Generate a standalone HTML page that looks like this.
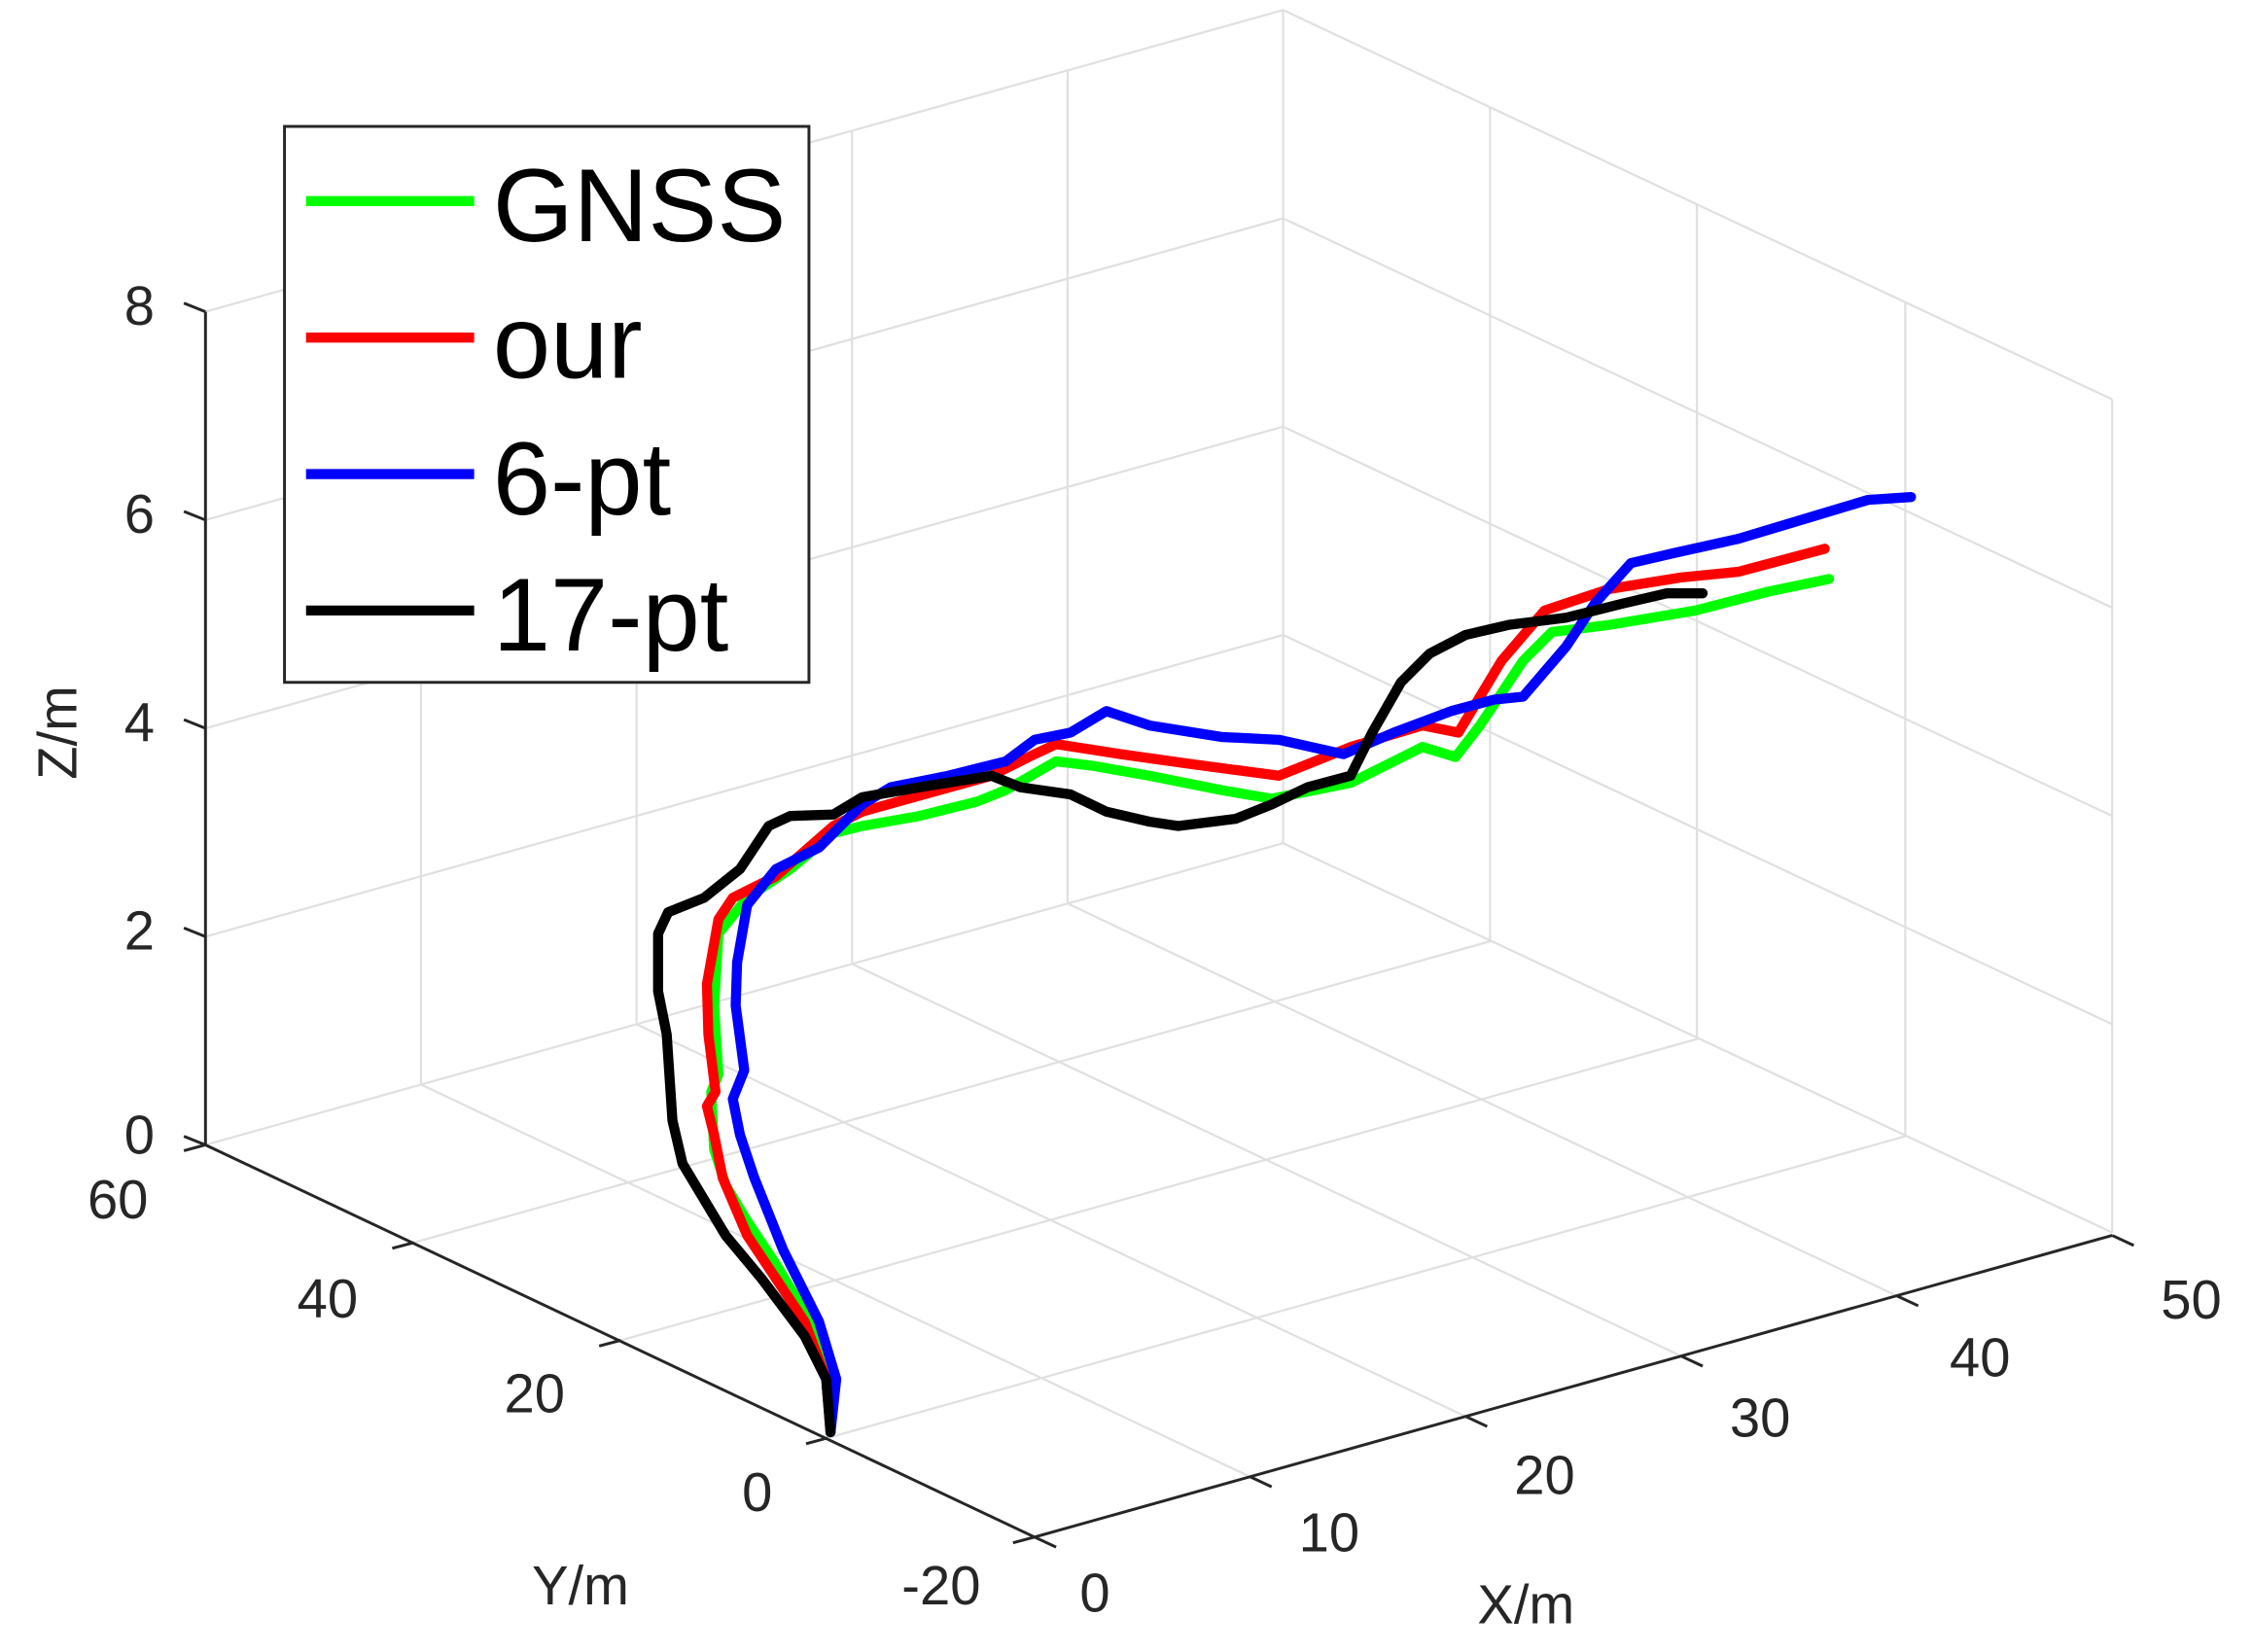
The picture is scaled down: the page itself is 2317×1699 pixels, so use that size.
<!DOCTYPE html>
<html><head><meta charset="utf-8"><style>
html,body{margin:0;padding:0;background:#fff;}
svg{display:block;}
text{font-family:"Liberation Sans",Arial,sans-serif;fill:#262626;}
</style></head><body>
<svg width="2317" height="1699" viewBox="0 0 1568 1150" preserveAspectRatio="none" xmlns="http://www.w3.org/2000/svg">
<rect width="1568" height="1150" fill="#fff"/>
<g stroke="#e0e0e0" stroke-width="1.5" fill="none">
<line x1="143" y1="797" x2="143" y2="217"/>
<line x1="293" y1="755" x2="293" y2="175"/>
<line x1="443" y1="713" x2="443" y2="133"/>
<line x1="593" y1="671" x2="593" y2="91"/>
<line x1="743" y1="629" x2="743" y2="49"/>
<line x1="893" y1="587" x2="893" y2="7"/>
<line x1="1037" y1="654" x2="1037" y2="74"/>
<line x1="1181" y1="722" x2="1181" y2="142"/>
<line x1="1326" y1="790" x2="1326" y2="210"/>
<line x1="1470" y1="858" x2="1470" y2="278"/>
<polyline points="143,652 893,442 1470,713"/>
<polyline points="143,507 893,297 1470,568"/>
<polyline points="143,362 893,152 1470,423"/>
<polyline points="143,217 893,7 1470,278"/>
<polyline points="143,797 893,587 1470,858"/>
<line x1="293" y1="755" x2="870" y2="1028"/>
<line x1="443" y1="713" x2="1020" y2="986"/>
<line x1="593" y1="671" x2="1170" y2="944"/>
<line x1="743" y1="629" x2="1320" y2="902"/>
<line x1="288" y1="865" x2="1038" y2="655"/>
<line x1="432" y1="933" x2="1182" y2="723"/>
<line x1="576" y1="1001" x2="1326" y2="791"/>
</g>
<g stroke="#262626" stroke-width="2" fill="none">
<line x1="143" y1="797" x2="143" y2="217"/>
<line x1="143" y1="797" x2="720" y2="1070"/>
<line x1="720" y1="1070" x2="1470" y2="860"/>
<line x1="143" y1="797" x2="128" y2="791"/>
<line x1="143" y1="652" x2="128" y2="646"/>
<line x1="143" y1="507" x2="128" y2="501"/>
<line x1="143" y1="362" x2="128" y2="356"/>
<line x1="143" y1="217" x2="128" y2="211"/>
<line x1="143" y1="797" x2="128" y2="801"/>
<line x1="288" y1="865" x2="273" y2="869"/>
<line x1="432" y1="933" x2="417" y2="937"/>
<line x1="576" y1="1001" x2="561" y2="1005"/>
<line x1="720" y1="1070" x2="705" y2="1074"/>
<line x1="720" y1="1070" x2="735" y2="1077"/>
<line x1="870" y1="1028" x2="885" y2="1035"/>
<line x1="1020" y1="986" x2="1035" y2="993"/>
<line x1="1170" y1="944" x2="1185" y2="951"/>
<line x1="1320" y1="902" x2="1335" y2="909"/>
<line x1="1470" y1="860" x2="1485" y2="867"/>
</g>
<g font-size="38" text-anchor="middle">
<text x="97" y="226">8</text><text x="97" y="371">6</text><text x="97" y="516">4</text><text x="97" y="661">2</text><text x="97" y="803">0</text>
<text x="82" y="848">60</text><text x="228" y="917">40</text><text x="372" y="983">20</text><text x="527" y="1052">0</text><text x="655" y="1117">-20</text>
<text x="762" y="1122">0</text><text x="925" y="1080">10</text><text x="1075" y="1040">20</text><text x="1225" y="1000">30</text><text x="1378" y="958">40</text><text x="1525" y="918">50</text>
<text x="404" y="1117">Y/m</text><text x="1062" y="1130">X/m</text>
<text transform="translate(53,510) rotate(-90)">Z/m</text>
</g>
<g fill="none" stroke-width="7" stroke-linejoin="round" stroke-linecap="round">
<polyline stroke="#00ff00" points="578,997 580,960 570,930 540,880 520,850 505,825 497,800 495,760 500,748 497,700 500,650 520,625 550,605 580,580 600,575 640,568 680,558 700,550 735,530 760,533 800,540 850,550 885,556 940,545 990,520 1013,527 1030,505 1060,460 1080,440 1120,435 1180,425 1230,412 1273,403"/>
<polyline stroke="#ff0000" points="578,997 575,960 560,920 520,860 503,820 497,790 492,770 498,760 493,720 492,685 500,640 510,625 540,610 580,575 600,565 690,540 720,525 735,518 780,525 830,532 890,540 940,520 990,505 1015,510 1045,460 1075,425 1120,410 1170,402 1210,398 1270,382"/>
<polyline stroke="#0000ff" points="578,997 582,960 570,920 545,870 525,820 515,790 510,765 518,745 512,700 513,670 520,630 540,605 570,590 600,560 620,548 660,540 700,530 720,515 745,510 770,495 800,505 850,513 890,515 935,525 970,510 1010,495 1040,487 1060,485 1090,450 1110,420 1135,392 1165,385 1210,375 1260,360 1300,348 1330,346"/>
<polyline stroke="#000000" points="578,997 575,960 560,930 530,890 505,860 490,835 475,810 468,780 466,750 464,720 458,690 458,650 465,635 490,625 515,605 525,590 535,575 550,568 580,567 600,555 640,548 690,540 710,548 745,553 770,565 800,572 820,575 860,570 885,560 910,548 940,540 955,510 975,475 995,455 1020,442 1050,435 1090,430 1130,420 1160,413 1185,413"/>
</g>
<rect x="198" y="88" width="365" height="387" fill="#fff" stroke="#262626" stroke-width="2"/>
<g stroke-width="7">
<line x1="213" y1="140" x2="330" y2="140" stroke="#00ff00"/>
<line x1="213" y1="235" x2="330" y2="235" stroke="#ff0000"/>
<line x1="213" y1="330" x2="330" y2="330" stroke="#0000ff"/>
<line x1="213" y1="425" x2="330" y2="425" stroke="#000000"/>
</g>
<g font-size="72">
<text x="343" y="168" style="fill:#000">GNSS</text>
<text x="343" y="263" style="fill:#000">our</text>
<text x="343" y="358" style="fill:#000">6-pt</text>
<text x="343" y="453" style="fill:#000">17-pt</text>
</g>
</svg>
</body></html>
